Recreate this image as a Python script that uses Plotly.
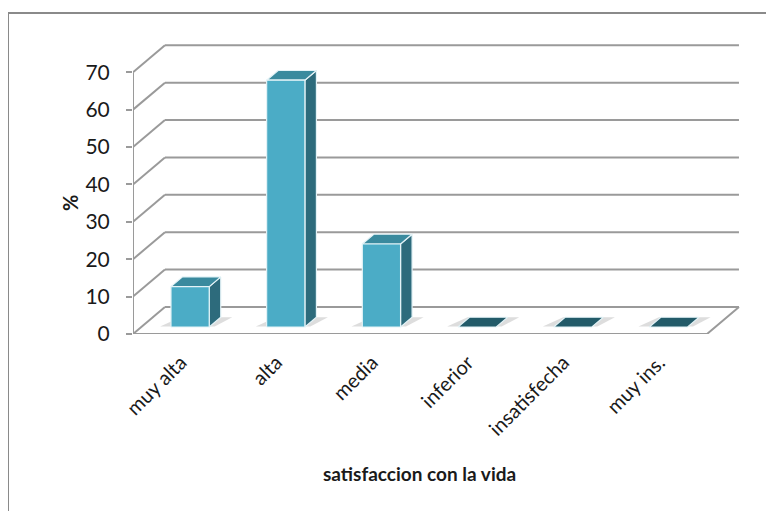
import plotly.graph_objects as go

# ---- data ----
categories = ["muy alta", "alta", "media", "inferior", "insatisfecha", "muy ins."]
values = [10.8, 66.0, 22.2, 0, 0, 0]
y_ticks = [0, 10, 20, 30, 40, 50, 60, 70]
x_title = "satisfaccion con la vida"
y_title = "%"

# ---- 3D oblique projection parameters (in axis units) ----
DX = 0.334      # depth shift along x (category units)
DY = 7.22       # depth shift along y (value units)
D0, D1 = 0.26, 0.62   # bar depth span (fraction of box depth)
BL, BR = -0.19, 0.21  # bar left/right offsets from category centre
YMAX_WALL = max(y_ticks)

FRONT = "#4BACC6"
TOP = "#3A8A9E"
SIDE = "#2D6B7C"
ZERO_TOP = "#235B69"
EDGE = "#E4F3F7"
GRID = "#9A9A9A"
FONT = "Lato, 'Open Sans', sans-serif"
TXT = "#1a1a1a"

def proj(x, v, d):
    return x + d * DX, v + d * DY

fig = go.Figure()

# ---- walls / gridlines ----
xmin = -0.5
xmax = len(categories) - 0.5
gx, gy = [], []
for t in y_ticks:
    a = proj(xmin, t, 1); b = proj(xmax, t, 1)
    gx += [a[0], b[0], None]; gy += [a[1], b[1], None]
    c = proj(xmin, t, 0)
    gx += [c[0], a[0], None]; gy += [c[1], a[1], None]
p1 = proj(xmin, 0, 0); p2 = proj(xmax, 0, 0); p3 = proj(xmax, 0, 1)
gx += [p1[0], p2[0], p3[0], None]; gy += [p1[1], p2[1], p3[1], None]
gx += [xmin, xmin, None]; gy += [0, YMAX_WALL, None]
fig.add_trace(go.Scatter(x=gx, y=gy, mode="lines",
                         line=dict(color=GRID, width=2),
                         hoverinfo="skip", showlegend=False))

def face(pts, color):
    xs = [p[0] for p in pts] + [pts[0][0]]
    ys = [p[1] for p in pts] + [pts[0][1]]
    fig.add_trace(go.Scatter(x=xs, y=ys, mode="lines", fill="toself",
                             fillcolor=color, line=dict(color=EDGE, width=1.2),
                             hoverinfo="skip", showlegend=False))

# ---- shadows ----
for i, v in enumerate(values):
    x0, x1 = i + BL, i + BR
    pts = [proj(x0 - 0.12, 0, D0 + 0.02), proj(x1 + 0.05, 0, D0 + 0.02),
           proj(x1 + 0.12, 0, D1), proj(x0 - 0.02, 0, D1)]
    xs = [p[0] for p in pts] + [pts[0][0]]
    ys = [p[1] for p in pts] + [pts[0][1]]
    fig.add_trace(go.Scatter(x=xs, y=ys, mode="lines", fill="toself",
                             fillcolor="rgba(120,120,120,0.25)",
                             line=dict(width=0), hoverinfo="skip", showlegend=False))

# ---- bars ----
for i, v in enumerate(values):
    x0, x1 = i + BL, i + BR
    if v > 0:
        face([proj(x1, 0, D0), proj(x1, 0, D1), proj(x1, v, D1), proj(x1, v, D0)], SIDE)
        face([proj(x0, v, D0), proj(x1, v, D0), proj(x1, v, D1), proj(x0, v, D1)], TOP)
        face([proj(x0, 0, D0), proj(x1, 0, D0), proj(x1, v, D0), proj(x0, v, D0)], FRONT)
    else:
        face([proj(x0, 0, D0), proj(x1, 0, D0), proj(x1, 0, D1), proj(x0, 0, D1)], ZERO_TOP)

# ---- layout (page body has an 8px margin) ----
OFF = 8
W, H = 774 - OFF, 511 - OFF
L = 133 - OFF
T = 40 - OFF
B = H - (334 - OFF)
R = W - (745 - OFF)
pw = W - L - R
ph = H - T - B
xr = [xmin, xmin + pw / 95.67]
yr = [0, ph / 3.739]

def px_to_paper(px, py):
    # px, py are target-image pixel coordinates
    return (px - OFF - L) / pw, (H - B - (py - OFF)) / ph

fig.update_layout(
    width=W, height=H,
    margin=dict(l=L, r=R, t=T, b=B),
    paper_bgcolor="white", plot_bgcolor="white",
    font=dict(family=FONT, color=TXT),
    xaxis=dict(range=xr, tickmode="array", tickvals=list(range(len(categories))),
               ticktext=categories, tickangle=-45, showgrid=False, zeroline=False,
               showline=False, ticks="", tickfont=dict(size=20), ticklabelstandoff=12,
               fixedrange=True),
    yaxis=dict(range=yr, tickmode="array", tickvals=y_ticks, showgrid=False,
               zeroline=False, showline=False, ticks="outside", ticklen=6,
               tickwidth=1.5, tickcolor=GRID, tickfont=dict(size=21),
               ticklabelstandoff=12, fixedrange=True),
)

ax, ay = px_to_paper(419, 473)
fig.add_annotation(text="<b>" + x_title + "</b>", xref="paper", yref="paper", x=ax, y=ay,
                   showarrow=False, font=dict(size=19, family=FONT, color=TXT),
                   xanchor="center", yanchor="middle")
bx, by = px_to_paper(70, 203)
fig.add_annotation(text="<b>" + y_title + "</b>", xref="paper", yref="paper", x=bx, y=by,
                   showarrow=False, textangle=-90,
                   font=dict(size=20, family=FONT, color=TXT),
                   xanchor="center", yanchor="middle")

# chart border (extends beyond right/bottom edges)
c0 = px_to_paper(8, 530); c1 = px_to_paper(800, 13)
fig.add_shape(type="rect", xref="paper", yref="paper",
              x0=c0[0], y0=c0[1], x1=c1[0], y1=c1[1],
              line=dict(color="#8A8A8A", width=2), fillcolor="rgba(0,0,0,0)", layer="below")

fig.write_html("out.html")
